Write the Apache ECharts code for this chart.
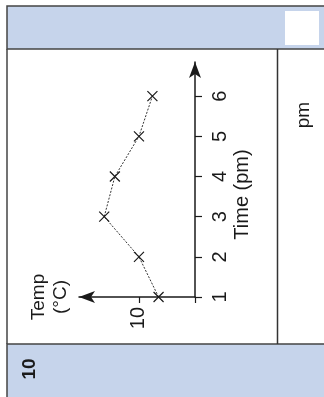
<!DOCTYPE html>
<html>
<head>
<meta charset="utf-8">
<style>
  html, body { margin: 0; padding: 0; background: #fff; }
  #chart { width: 324px; height: 397px; }
</style>
<script src="https://cdn.jsdelivr.net/npm/echarts@6/dist/echarts.min.js"></script>
</head>
<body>
<div id="chart"></div>
<script>
// readings from the sketch graph (page is turned on its side)
const times = [1, 2, 3, 4, 5, 6];
const temps = [6.5, 10, 16.2, 14.3, 10, 7.6];
const timeTicks = [1, 2, 3, 4, 5, 6];
const tempTicks = [10];

const INK = "#1a1a1a";
const BAND = "#c6d4eb";
const FONT = "Liberation Sans";

const chart = echarts.init(document.getElementById("chart"), null, { renderer: "canvas" });

const points = times.map((t, i) => [temps[i], t]);

const option = {
  animation: false,
  backgroundColor: "#fff",
  grid: { left: 79, right: 129, top: 62, bottom: 100 },
  xAxis: {
    type: "value",
    inverse: true,
    min: 0,
    max: 20.7,
    position: "bottom",
    name: "Temp\n(°C)",
    nameLocation: "end",
    nameRotate: 90,
    nameGap: 29,
    nameTextStyle: { fontFamily: FONT, fontSize: 19, color: INK, lineHeight: 22, align: "center", verticalAlign: "middle" },
    splitLine: { show: false },
    // inverse axis: the arrow sits on the far (max) end
    axisLine: { lineStyle: { color: INK, width: 1.5 }, symbol: ["arrow", "none"], symbolSize: [9, 16] },
    axisTick: { length: 6, customValues: [0].concat(tempTicks), lineStyle: { color: INK, width: 1.2 } },
    axisLabel: { customValues: tempTicks, rotate: 90, margin: 10, fontFamily: FONT, fontSize: 20, color: INK },
  },
  yAxis: {
    type: "value",
    min: 1,
    max: 6.85,
    position: "right",
    name: "Time (pm)",
    nameLocation: "middle",
    nameRotate: 90,
    nameGap: 37,
    // right padding pushes the turned title down towards the origin
    nameTextStyle: { fontFamily: FONT, fontSize: 20, color: INK, padding: [0, 30, 0, 0] },
    splitLine: { show: false },
    axisLine: { lineStyle: { color: INK, width: 1.5 }, symbol: ["none", "arrow"], symbolSize: [9, 16] },
    axisTick: { length: 7, customValues: timeTicks, lineStyle: { color: INK, width: 1.2 } },
    axisLabel: { customValues: timeTicks, rotate: 90, margin: 15, fontFamily: FONT, fontSize: 20, color: INK },
  },
  series: [
    {
      type: "line",
      data: points,
      symbol: "path://M0,0L10,10M10,0L0,10",
      symbolSize: 10,
      itemStyle: { color: "transparent", borderColor: INK, borderWidth: 1.2 },
      lineStyle: { color: "#333", width: 1, type: [2, 1.5] },
      z: 5,
    },
  ],
  graphic: [
    // table frame around the graph
    { type: "rect", z: -10, shape: { x: 7, y: 6, width: 320, height: 43 }, style: { fill: BAND, stroke: "#444", lineWidth: 1.5 } },
    { type: "rect", z: -9, shape: { x: 285, y: 11, width: 34, height: 34 }, style: { fill: "#fff" } },
    { type: "rect", z: -10, shape: { x: 7, y: 344, width: 320, height: 60 }, style: { fill: BAND, stroke: "#444", lineWidth: 1.5 } },
    { type: "line", z: -10, shape: { x1: 7, y1: 49, x2: 7, y2: 344 }, style: { stroke: "#444", lineWidth: 1.5 } },
    { type: "line", z: -10, shape: { x1: 277.5, y1: 49, x2: 277.5, y2: 344 }, style: { stroke: "#333", lineWidth: 1.5 } },
    { type: "text", x: 304, y: 115, rotation: Math.PI / 2, style: { text: "pm", font: "19px " + FONT, fill: INK, align: "center", verticalAlign: "middle" } },
    { type: "text", x: 30, y: 369, rotation: Math.PI / 2, style: { text: "10", font: "bold 19px " + FONT, fill: INK, align: "center", verticalAlign: "middle" } },
  ],
};

chart.setOption(option);
</script>
</body>
</html>
